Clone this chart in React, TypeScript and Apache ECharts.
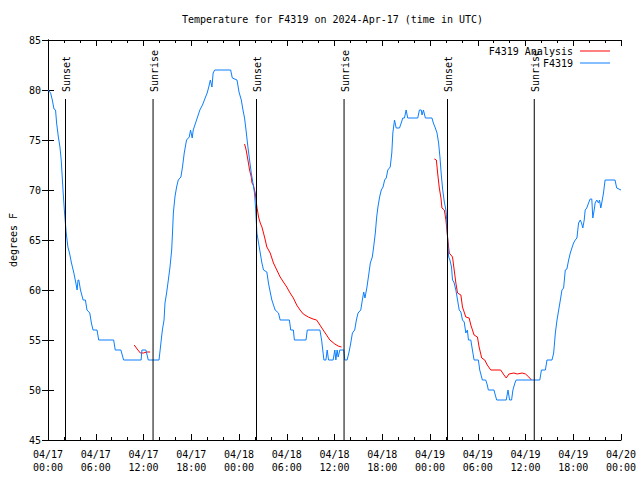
import React, { useEffect, useRef } from "react";
import * as echarts from "echarts";

// Time axis: hours since 2024-04-17 00:00 UTC
const xTickHours = [0, 6, 12, 18, 24, 30, 36, 42, 48, 54, 60, 66, 72];
const yTicks = [45, 50, 55, 60, 65, 70, 75, 80, 85];

const sunEventHours = [2.2, 13.2, 26.2, 37.2, 50.2, 61.1];
const sunEventLabels = ["Sunset", "Sunrise", "Sunset", "Sunrise", "Sunset", "Sunrise"];

// F4319 observations [hour, degrees F]
const f4319: [number, number][] = [
  [0.0, 80.0], [0.33, 79.7], [0.54, 79.0], [0.75, 78.1], [0.95, 78.0], [1.08, 76.7],
  [1.3, 75.3], [1.5, 74.3], [1.66, 73.0], [1.79, 71.3], [1.91, 69.7], [2.08, 67.7],
  [2.29, 65.7], [2.5, 64.3], [2.7, 63.7], [2.95, 62.7], [3.25, 61.7], [3.5, 60.7],
  [3.66, 60.0], [3.77, 61.0], [3.87, 61.0], [4.08, 60.0], [4.41, 59.0], [4.7, 59.0],
  [4.9, 58.0], [5.25, 57.7], [5.45, 56.7], [5.66, 56.0], [6.16, 56.0], [6.37, 55.0],
  [8.25, 55.0], [8.45, 54.0], [9.16, 54.0], [9.5, 53.0], [11.7, 53.0], [11.8, 54.0],
  [12.3, 54.0], [12.6, 53.0], [13.95, 53.0], [14.16, 54.5], [14.37, 56.0], [14.58, 57.0],
  [14.7, 58.7], [14.9, 59.7], [15.12, 61.0], [15.33, 62.3], [15.54, 64.0], [15.66, 66.0],
  [15.75, 67.7], [15.95, 69.3], [16.16, 70.3], [16.37, 71.0], [16.7, 71.3], [16.9, 72.3],
  [17.12, 73.7], [17.41, 75.0], [17.75, 75.3], [17.91, 76.0], [18.12, 75.2], [18.25, 76.0],
  [18.54, 76.7], [18.75, 77.2], [19.08, 78.0], [19.41, 78.5], [19.7, 79.1], [20.0, 79.7],
  [20.2, 80.3], [20.4, 81.0], [20.6, 80.3], [20.75, 81.7], [20.95, 82.0], [22.95, 82.0],
  [23.16, 81.2], [23.75, 81.0], [24.0, 79.8], [24.29, 79.0], [24.5, 78.0], [24.7, 77.2],
  [24.91, 75.8], [25.12, 74.3], [25.33, 73.0], [25.54, 71.7], [25.75, 70.7], [25.95, 69.7],
  [26.1, 68.0], [26.25, 65.7], [26.46, 64.7], [26.67, 63.7], [26.88, 62.7], [27.08, 62.0],
  [27.5, 61.8], [27.7, 60.7], [27.92, 59.8], [28.13, 59.0], [28.54, 58.0], [28.96, 57.7],
  [29.17, 57.0], [30.33, 57.0], [30.5, 56.0], [30.83, 56.0], [30.96, 55.0], [32.42, 55.0],
  [32.58, 56.0], [34.17, 56.0], [34.38, 55.0], [34.67, 53.0], [34.92, 53.0], [35.08, 54.0],
  [35.25, 53.0], [35.83, 53.0], [36.04, 54.0], [36.17, 53.0], [36.33, 54.0], [36.46, 53.3],
  [36.67, 54.0], [37.17, 54.0], [37.29, 53.0], [37.58, 53.0], [37.8, 53.7], [38.0, 54.5],
  [38.25, 55.7], [38.54, 56.0], [38.75, 57.0], [38.96, 57.7], [39.3, 58.0], [39.5, 59.0],
  [39.67, 59.8], [39.83, 59.2], [40.08, 60.3], [40.33, 61.7], [40.5, 62.7], [40.75, 63.3],
  [40.92, 64.3], [41.13, 65.7], [41.3, 67.3], [41.46, 68.3], [41.67, 69.3], [41.88, 70.0],
  [42.1, 70.3], [42.3, 71.0], [42.5, 71.2], [42.7, 72.0], [43.0, 72.3], [43.2, 73.7],
  [43.33, 75.7], [43.54, 77.0], [43.75, 76.2], [44.17, 76.2], [44.38, 76.7], [44.58, 77.2],
  [44.79, 77.2], [45.0, 78.0], [45.2, 77.2], [46.46, 77.2], [46.67, 78.0], [46.9, 78.0],
  [47.0, 77.5], [47.17, 78.0], [47.42, 77.2], [48.25, 77.2], [48.42, 76.7], [48.67, 76.2],
  [48.88, 75.7], [49.08, 74.7], [49.25, 73.3], [49.42, 71.5], [49.6, 70.0], [49.8, 68.8],
  [50.0, 68.0], [50.1, 67.0], [50.25, 64.5], [50.35, 63.3], [50.5, 63.0], [50.7, 62.3],
  [50.83, 61.0], [51.0, 60.8], [51.25, 60.0], [51.46, 59.0], [51.67, 58.0], [51.88, 57.8],
  [52.08, 57.0], [52.3, 56.8], [52.5, 55.7], [52.7, 56.0], [52.83, 55.0], [53.13, 55.0],
  [53.33, 54.0], [53.54, 53.0], [54.08, 53.0], [54.25, 52.0], [54.58, 51.0], [55.0, 51.0],
  [55.2, 50.5], [55.33, 50.0], [56.04, 50.0], [56.2, 49.5], [56.38, 49.0], [57.58, 49.0],
  [57.8, 50.0], [58.0, 49.0], [58.25, 49.0], [58.42, 50.0], [58.67, 50.7], [58.83, 51.0],
  [61.8, 51.0], [62.0, 52.0], [62.5, 52.0], [62.7, 53.0], [63.33, 53.0], [63.54, 53.7],
  [63.75, 55.7], [63.96, 57.0], [64.17, 58.0], [64.38, 59.0], [64.58, 60.0], [64.79, 60.2],
  [65.0, 62.0], [65.2, 62.1], [65.42, 63.0], [65.63, 63.7], [65.83, 64.2], [66.04, 64.7],
  [66.25, 65.0], [66.46, 65.2], [66.67, 66.7], [66.88, 67.0], [67.04, 66.7], [67.2, 66.2],
  [67.38, 67.0], [67.5, 68.0], [67.7, 68.2], [67.92, 68.7], [68.13, 69.1], [68.33, 69.1],
  [68.46, 67.2], [68.63, 68.0], [68.75, 68.7], [68.96, 69.0], [69.17, 68.7], [69.3, 69.0],
  [69.46, 68.2], [69.58, 68.7], [69.8, 69.7], [70.0, 71.0], [71.25, 71.0], [71.46, 70.2],
  [72.0, 70.0],
];

// F4319 Analysis segments [hour, degrees F]
const analysisDay1: [number, number][] = [
  [10.83, 54.5], [11.2, 54.1], [11.6, 53.7], [12.0, 53.7], [12.4, 53.8], [12.83, 53.8],
];
const analysisDay2: [number, number][] = [
  [24.7, 74.6], [24.9, 74.0], [25.12, 73.0], [25.33, 72.0], [25.54, 71.3], [25.63, 70.7],
  [25.8, 70.5], [26.04, 69.7], [26.25, 68.3], [26.46, 67.3], [26.67, 66.7], [26.88, 66.3],
  [27.08, 65.7], [27.3, 65.0], [27.5, 64.3], [27.92, 63.7], [28.33, 62.7], [28.75, 62.0],
  [29.17, 61.3], [29.58, 60.8], [30.0, 60.3], [30.42, 59.7], [30.83, 59.2], [31.25, 58.5],
  [31.67, 58.0], [32.08, 57.6], [32.7, 57.3], [33.3, 57.1], [33.75, 57.0], [34.17, 56.5],
  [34.58, 56.0], [35.0, 55.5], [35.42, 55.0], [36.04, 54.6], [36.46, 54.4], [36.88, 54.3],
];
const analysisDay3: [number, number][] = [
  [48.55, 73.1], [48.8, 73.0], [48.96, 71.7], [49.17, 70.2], [49.38, 69.2], [49.5, 68.2],
  [49.8, 68.0], [50.0, 67.0], [50.21, 65.3], [50.42, 63.7], [50.83, 63.3], [51.04, 62.0],
  [51.25, 60.7], [51.46, 59.7], [51.88, 59.5], [52.08, 58.3], [52.5, 57.3], [52.92, 57.2],
  [53.13, 56.5], [53.54, 55.5], [53.96, 55.3], [54.17, 54.3], [54.5, 53.2], [54.88, 53.0],
  [55.2, 52.5], [55.63, 52.0], [56.88, 52.0], [57.3, 51.5], [57.58, 51.2], [57.92, 51.6],
  [58.54, 51.7], [58.96, 51.6], [59.58, 51.7], [60.0, 51.6], [60.42, 51.3], [60.75, 51.0],
];

const FONT = "DejaVu Sans Mono";
const BLUE = "#0a7eff";
const RED = "#ff0000";

function fmtX(v: number): string {
  const day = 17 + Math.floor(v / 24);
  const h = Math.round(v % 24);
  return `04/${day}\n${h < 10 ? "0" + h : h}:00`;
}

export default function App() {
  const ref = useRef<HTMLDivElement>(null);
  useEffect(() => {
    if (!ref.current) return;
    const chart = echarts.init(ref.current, undefined, { renderer: "svg" });
    const analysisData: any[] = [
      ...analysisDay1,
      [13.4, "-"],
      ...analysisDay2,
      [40, "-"],
      ...analysisDay3,
    ];
    const xMin = xTickHours[0];
    const xMax = xTickHours[xTickHours.length - 1];
    const xInt = xTickHours[1] - xTickHours[0];
    const yMin = yTicks[0];
    const yMax = yTicks[yTicks.length - 1];
    const yInt = yTicks[1] - yTicks[0];
    const txt = { fontFamily: FONT, fontSize: 10, color: "#000" };
    const baseX = {
      type: "value",
      min: xMin,
      max: xMax,
      interval: xInt,
      splitLine: { show: false },
      axisLine: { show: true, lineStyle: { color: "#000", width: 1 } },
      axisTick: { show: true, inside: true, length: 6, lineStyle: { color: "#000" } },
      minorTick: { show: true, splitNumber: 3, length: 3, lineStyle: { color: "#000" } },
    };
    const baseY = {
      type: "value",
      min: yMin,
      max: yMax,
      interval: yInt,
      splitLine: { show: false },
      axisLine: { show: true, lineStyle: { color: "#000", width: 1 } },
      axisTick: { show: true, inside: true, length: 6, lineStyle: { color: "#000" } },
    };
    chart.setOption({
      animation: false,
      backgroundColor: "#fff",
      title: {
        text: "Temperature for F4319 on 2024-Apr-17 (time in UTC)",
        left: 182,
        top: 14,
        padding: 0,
        textStyle: { ...txt, fontWeight: "normal" },
      },
      legend: {
        orient: "vertical",
        right: 30,
        top: 45,
        align: "right",
        icon: "rect",
        itemWidth: 30,
        itemHeight: 1,
        itemGap: 0,
        padding: 0,
        textStyle: { ...txt, lineHeight: 12, padding: [0, 2, 0, 0] },
        data: ["F4319 Analysis", "F4319"],
      },
      grid: { left: 46, right: 19, top: 40, bottom: 40, containLabel: false },
      xAxis: [
        {
          ...baseX,
          position: "bottom",
          axisLabel: { ...txt, margin: 8, lineHeight: 13, formatter: fmtX },
        },
        {
          ...baseX,
          position: "top",
          axisLabel: { show: false },
        },
      ],
      yAxis: [
        {
          ...baseY,
          position: "left",
          name: "degrees F",
          nameLocation: "middle",
          nameGap: 30,
          nameTextStyle: txt,
          axisLabel: { ...txt, margin: 7 },
        },
        {
          ...baseY,
          position: "right",
          axisLabel: { show: false },
        },
      ],
      series: [
        {
          name: "F4319 Analysis",
          type: "line",
          data: analysisData,
          symbol: "none",
          connectNulls: false,
          lineStyle: { color: RED, width: 1 },
          itemStyle: { color: RED },
          z: 2,
        },
        {
          name: "F4319",
          type: "line",
          data: f4319,
          symbol: "none",
          lineStyle: { color: BLUE, width: 1 },
          itemStyle: { color: BLUE },
          z: 3,
        },
        {
          type: "custom",
          data: sunEventHours.map((h) => [h, 79.1]),
          encode: { x: 0, y: 1 },
          z: 4,
          silent: true,
          renderItem: (params: any, api: any) => {
            const hr = api.value(0);
            const p0 = api.coord([hr, yMin]);
            const p1 = api.coord([hr, api.value(1)]);
            const label = sunEventLabels[params.dataIndex];
            return {
              type: "group",
              children: [
                {
                  type: "line",
                  shape: { x1: p0[0], y1: p0[1], x2: p1[0], y2: p1[1] },
                  style: { stroke: "#000", lineWidth: 1 },
                },
                {
                  type: "text",
                  x: p1[0] + 1,
                  y: p1[1] - 7,
                  rotation: Math.PI / 2,
                  style: {
                    text: label,
                    fill: "#000",
                    font: `10px "${FONT}"`,
                    align: "left",
                    verticalAlign: "middle",
                  },
                },
              ],
            };
          },
        },
      ],
    });
    return () => chart.dispose();
  }, []);
  return (
    <div
      ref={ref}
      style={{ position: "absolute", left: 0, top: 0, width: 640, height: 480, background: "#fff" }}
    />
  );
}
